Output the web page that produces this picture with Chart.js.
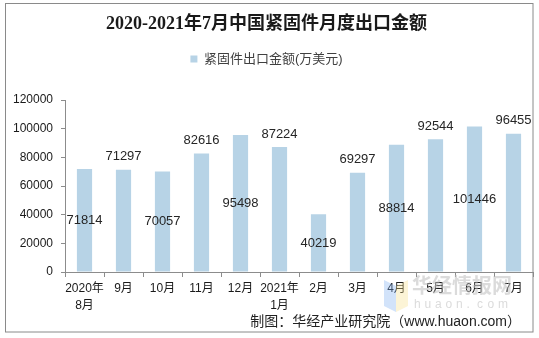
<!DOCTYPE html>
<html>
<head>
<meta charset="utf-8">
<script src="https://cdn.jsdelivr.net/npm/chart.js@4/dist/chart.umd.min.js"></script>
<style>
html,body{margin:0;padding:0;background:#fff;}
#wrap{width:539px;height:338px;}
</style>
</head>
<body>
<div id="wrap"><canvas id="c" width="539" height="338"></canvas></div>
<script>
const titleText = "2020-2021年7月中国紧固件月度出口金额";
const seriesName = "紧固件出口金额(万美元)";
const categories = [["2020年","8月"],"9月","10月","11月","12月",["2021年","1月"],"2月","3月","4月","5月","6月","7月"];
const exportValues = [71814, 71297, 70057, 82616, 95498, 87224, 40219, 69297, 88814, 92544, 101446, 96455];
const yTicks = [0, 20000, 40000, 60000, 80000, 100000, 120000];
const sourceText = "制图：华经产业研究院（www.huaon.com）";

const FONT = '"Liberation Sans", "Noto Sans CJK SC", sans-serif';
const BAR = '#B7D3E6';
const AXIS = '#8c8c8c';

const frame = {
  id: 'frame',
  beforeDraw(chart) {
    const ctx = chart.ctx;
    ctx.save();
    ctx.fillStyle = '#fff';
    ctx.fillRect(0, 0, chart.width, chart.height);
    ctx.restore();
  },
  afterDraw(chart) {
    const ctx = chart.ctx;
    ctx.save();
    ctx.strokeStyle = '#8a8a8a';
    ctx.lineWidth = 1;
    ctx.strokeRect(5.5, 3.5, 527.5, 328.5);
    // watermark
    ctx.globalAlpha = 0.35;
    ctx.fillStyle = '#7fb0f0';
    ctx.beginPath(); ctx.moveTo(384, 280); ctx.lineTo(396, 286); ctx.lineTo(396, 312); ctx.lineTo(384, 306); ctx.closePath(); ctx.fill();
    ctx.fillStyle = '#f5e08a';
    ctx.beginPath(); ctx.moveTo(396, 286); ctx.lineTo(408, 280); ctx.lineTo(408, 306); ctx.lineTo(396, 312); ctx.closePath(); ctx.fill();
    ctx.globalAlpha = 1;
    ctx.fillStyle = 'rgba(190,190,190,0.55)';
    ctx.font = 'bold 20px ' + FONT;
    ctx.textAlign = 'left'; ctx.textBaseline = 'middle';
    ctx.fillText('华经情报网', 412, 287);
    ctx.font = '12px ' + FONT;
    const w = 'huaon.com';
    for (let i = 0; i < w.length; i++) ctx.fillText(w[i], 414 + i * 10.5, 305);
    // source
    ctx.fillStyle = '#222';
    ctx.font = '14px ' + FONT;
    ctx.textAlign = 'right';
    ctx.textBaseline = 'middle';
    ctx.fillText(sourceText, 521, 322);
    ctx.restore();
  }
};

const barLabels = {
  id: 'barLabels',
  afterDatasetsDraw(chart) {
    const ctx = chart.ctx;
    const meta = chart.getDatasetMeta(0);
    const data = chart.data.datasets[0].data;
    ctx.save();
    ctx.font = '13px ' + FONT;
    ctx.fillStyle = '#262626';
    ctx.textAlign = 'center';
    ctx.textBaseline = 'middle';
    meta.data.forEach((bar, i) => {
      const txt = String(data[i]);
      if (i % 2 === 0) {
        ctx.fillText(txt, bar.x, (bar.y + bar.base) / 2);
      } else {
        ctx.fillText(txt, bar.x, bar.y - 13);
      }
    });
    ctx.restore();
  }
};

const legendSize = {
  id: 'legendSize',
  beforeInit(chart) {
    const orig = chart.legend.fit;
    chart.legend.fit = function () {
      orig.call(this);
      this.height = 55.4;
    };
  }
};

new Chart(document.getElementById('c'), {
  type: 'bar',
  data: {
    labels: categories,
    datasets: [{
      label: seriesName,
      data: exportValues,
      backgroundColor: BAR,
      borderWidth: 0,
      barPercentage: 0.39,
      categoryPercentage: 1
    }]
  },
  options: {
    responsive: false,
    animation: false,
    devicePixelRatio: 1,
    layout: { padding: { left: 0, right: 6, top: 0, bottom: 0 } },
    plugins: {
      title: {
        display: true,
        text: titleText,
        color: '#1a1a1a',
        font: { family: '"Liberation Serif", "Noto Sans CJK SC", serif', size: 18, weight: 'bold' },
        padding: { top: 14, bottom: 9 }
      },
      legend: {
        display: true,
        position: 'top',
        labels: {
          color: '#404040',
          font: { family: FONT, size: 13 },
          boxWidth: 7,
          boxHeight: 7,
          padding: 8
        }
      },
      tooltip: { enabled: false }
    },
    scales: {
      x: {
        grid: { display: true, drawOnChartArea: false, drawTicks: true, tickLength: 5, color: AXIS, offset: true },
        border: { display: true, color: AXIS },
        ticks: { color: '#1a1a1a', font: { family: FONT, size: 12, lineHeight: 1.35 }, padding: 4, maxRotation: 0, autoSkip: false },
        afterFit(s) { s.height = 66; }
      },
      y: {
        min: 0, max: 120000,
        afterBuildTicks(s) { s.ticks = yTicks.map(v => ({ value: v })); },
        grid: { display: true, drawOnChartArea: false, drawTicks: true, tickLength: 4, color: AXIS },
        border: { display: true, color: AXIS },
        ticks: { color: '#1a1a1a', font: { family: FONT, size: 12 }, padding: 8, callback: (v) => String(v) },
        afterFit(s) { s.width = 65; }
      }
    }
  },
  plugins: [frame, barLabels, legendSize]
});
</script>
</body>
</html>
